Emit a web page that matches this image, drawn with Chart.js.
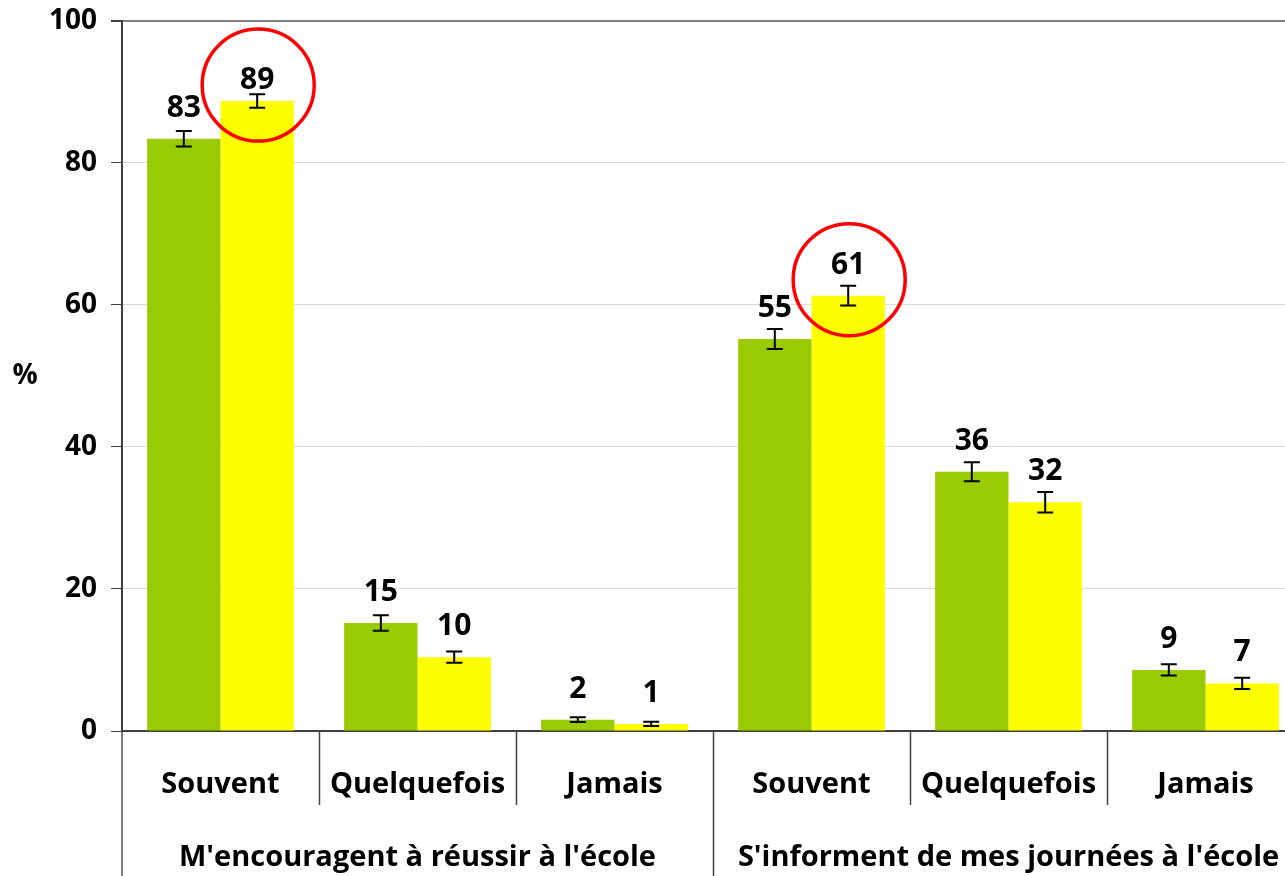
<!DOCTYPE html>
<html>
<head>
<meta charset="utf-8">
<script src="https://cdn.jsdelivr.net/npm/chart.js@4/dist/chart.umd.min.js"></script>
<style>
  html, body { margin: 0; padding: 0; background: #fff; overflow: hidden; }
  #wrap { width: 1304px; height: 886px; margin-top: -10px; }
</style>
</head>
<body>
<div id="wrap"><canvas id="chart" width="1304" height="886"></canvas></div>
<script>
const categories = ["Souvent", "Quelquefois", "Jamais", "Souvent", "Quelquefois", "Jamais"];
const groups = ["M'encouragent à réussir à l'école", "S'informent de mes journées à l'école"];
const greenValues = [83.4, 15.2, 1.6, 55.2, 36.5, 8.6];
const greenErrors = [1.1, 1.1, 0.35, 1.4, 1.35, 0.8];
const greenLabels = ["83", "15", "2", "55", "36", "9"];
const yellowValues = [88.7, 10.4, 1.0, 61.3, 32.2, 6.7];
const yellowErrors = [0.95, 0.8, 0.3, 1.4, 1.45, 0.8];
const yellowLabels = ["89", "10", "1", "61", "32", "7"];
const yTicks = [0, 20, 40, 60, 80, 100];
const circled = [0, 3]; // yellow bars whose label is circled in red

const FONT = '"Open Sans", "Liberation Sans", sans-serif';

const errorBars = {
  id: "errorBars",
  afterDatasetsDraw(chart) {
    const { ctx, scales: { y } } = chart;
    const errs = [greenErrors, yellowErrors];
    const labels = [greenLabels, yellowLabels];
    ctx.save();
    chart.data.datasets.forEach((ds, d) => {
      const meta = chart.getDatasetMeta(d);
      meta.data.forEach((bar, i) => {
        const v = ds.data[i];
        const hi = y.getPixelForValue(v + errs[d][i]);
        const lo = y.getPixelForValue(v - errs[d][i]);
        ctx.strokeStyle = "#000";
        ctx.lineWidth = 2;
        ctx.beginPath();
        ctx.moveTo(bar.x, hi); ctx.lineTo(bar.x, lo);
        ctx.moveTo(bar.x - 8, hi); ctx.lineTo(bar.x + 8, hi);
        ctx.moveTo(bar.x - 8, lo); ctx.lineTo(bar.x + 8, lo);
        ctx.stroke();

        // value label
        let base = bar.y - 22;
        if (d === 1 && i === 0) base += 10;
        ctx.fillStyle = "#000";
        ctx.font = "bold 30px " + FONT;
        ctx.textAlign = "center";
        ctx.textBaseline = "alphabetic";
        ctx.fillText(labels[d][i], bar.x, base);
      });
    });

    // red circles
    const ym = chart.getDatasetMeta(1);
    ctx.strokeStyle = "#ff0000";
    ctx.lineWidth = 3.5;
    circled.forEach((i) => {
      const bar = ym.data[i];
      ctx.beginPath();
      ctx.arc(bar.x + 1, bar.y - 16, 56, 0, Math.PI * 2);
      ctx.stroke();
    });
    ctx.restore();
  }
};

const axisLabels = {
  id: "axisLabels",
  afterDraw(chart) {
    const { ctx, chartArea: a, scales: { x, y } } = chart;
    const H = chart.height;
    const half = (x.getPixelForValue(1) - x.getPixelForValue(0)) / 2;
    ctx.save();

    // y axis continues down
    ctx.strokeStyle = "#7f7f7f";
    ctx.lineWidth = 2;
    ctx.beginPath();
    ctx.moveTo(a.left, a.bottom + 1); ctx.lineTo(a.left, H);
    ctx.stroke();

    // separators
    ctx.strokeStyle = "#404040";
    ctx.lineWidth = 1.5;
    for (let i = 1; i < categories.length; i++) {
      const sx = Math.round(x.getPixelForValue(i) - half) + 0.5;
      const long = i === 3;
      ctx.beginPath();
      ctx.moveTo(sx, a.bottom);
      ctx.lineTo(sx, long ? H : a.bottom + 74);
      ctx.stroke();
    }

    ctx.fillStyle = "#000";
    ctx.textAlign = "center";
    ctx.textBaseline = "middle";
    ctx.font = "bold 29px " + FONT;
    categories.forEach((c, i) => {
      ctx.fillText(c, x.getPixelForValue(i), a.bottom + 54);
    });
    groups.forEach((g, k) => {
      const cx = (x.getPixelForValue(k * 3) + x.getPixelForValue(k * 3 + 2)) / 2;
      ctx.fillText(g, cx, a.bottom + 127);
    });

    ctx.font = "bold 28px " + FONT;
    ctx.fillText("%", 25, y.getPixelForValue(50));
    ctx.restore();
  }
};

function draw() {
  new Chart(document.getElementById("chart"), {
    type: "bar",
    data: {
      labels: categories,
      datasets: [
        { label: "Série 1", data: greenValues, backgroundColor: "#99cc00", borderWidth: 0 },
        { label: "Série 2", data: yellowValues, backgroundColor: "#ffff00", borderWidth: 0 }
      ]
    },
    options: {
      responsive: false,
      animation: false,
      layout: { padding: { top: 11, right: 0, bottom: 0, left: 0 } },
      datasets: { bar: { barPercentage: 1, categoryPercentage: 0.745 } },
      plugins: { legend: { display: false }, tooltip: { enabled: false } },
      scales: {
        x: {
          ticks: { display: false },
          grid: { display: false },
          border: { color: "#404040", width: 2 },
          afterFit: (s) => { s.height = 145; }
        },
        y: {
          min: 0,
          max: 100,
          afterBuildTicks: (s) => { s.ticks = yTicks.map((v) => ({ value: v })); },
          afterFit: (s) => { s.width = 122; },
          ticks: { color: "#000", padding: 14, font: { family: FONT, size: 28, weight: "bold" } },
          grid: {
            color: (c) => (c.tick && c.tick.value === 100 ? "#808080" : "#d9d9d9"),
            lineWidth: (c) => (c.tick && c.tick.value === 100 ? 2 : 1),
            tickColor: "#404040",
            tickLength: 11
          },
          border: { color: "#404040", width: 2 }
        }
      }
    },
    plugins: [errorBars, axisLabels]
  });
}

document.fonts.load('bold 28px "Open Sans"').then(draw, draw);
</script>
</body>
</html>
